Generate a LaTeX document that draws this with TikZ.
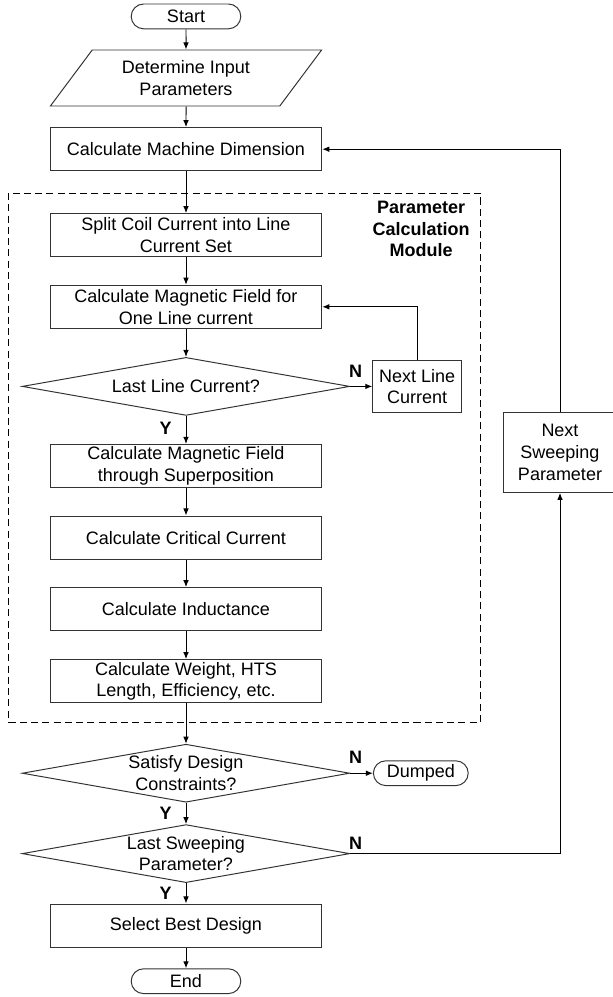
\documentclass[tikz,border=0pt]{standalone}
\usepackage{fontspec}
\setmainfont{Liberation Sans}
\usetikzlibrary{shapes.geometric,arrows.meta}

\begin{document}
\begin{tikzpicture}[
  line join=miter,
  every node/.style={font=\fontsize{12.8}{15.4}\selectfont},
  arr/.style={-{Latex[length=5pt,width=4pt]},line width=0.7pt},
  proc/.style={draw=black!80,line width=0.7pt,minimum width=6.79cm,minimum height=1.08cm,align=center,inner sep=1pt},
  term/.style={draw=black!80,line width=0.7pt,rectangle,rounded corners=0.31cm,minimum height=0.62cm,inner sep=0pt},
  decision/.style={draw=black!80,line width=0.7pt,diamond,minimum width=8.19cm,minimum height=1.45cm,inner sep=0pt},
  inputbox/.style={draw=black!80,line width=0.7pt,trapezium,trapezium left angle=50.7,trapezium right angle=129.3,trapezium stretches=true,minimum width=6.79cm,minimum height=1.40cm,align=center,inner sep=0pt},
  yn/.style={font=\fontsize{12.8}{15.4}\selectfont\bfseries}
]
\useasboundingbox (0,0) rectangle (15.325,-24.925);

% ------------------------------------------------------------------
% Main column
% ------------------------------------------------------------------
\node[term,minimum width=2.74cm] (start) at (4.65,-0.41) {Start};
\node[inputbox] (input) at (4.65,-1.95) {Determine Input\\Parameters};
\node[proc] (calc) at (4.65,-3.73) {Calculate Machine Dimension};

% ------------------------------------------------------------------
% Parameter calculation module
% ------------------------------------------------------------------
\draw[line width=0.7pt,dash pattern=on 5pt off 3pt] (0.22,-4.83) rectangle (12.02,-18.05);
\node[yn,align=center] (module) at (10.53,-5.73) {Parameter\\Calculation\\Module};

\node[proc] (split) at (4.65,-5.88) {Split Coil Current into Line\\Current Set};
\node[proc] (field) at (4.65,-7.67) {Calculate Magnetic Field for\\One Line current};
\node[decision] (lastline) at (4.65,-9.66) {};
\node[align=center] (lastlineT) at (lastline) {Last Line Current?};
\node[proc,minimum width=2.22cm,minimum height=1.30cm] (nextline) at (10.43,-9.66) {Next Line\\Current};
\node[proc] (superp) at (4.65,-11.65) {Calculate Magnetic Field\\through Superposition};
\node[proc] (crit) at (4.65,-13.44) {Calculate Critical Current};
\node[proc] (induct) at (4.65,-15.23) {Calculate Inductance};
\node[proc] (weight) at (4.65,-17.03) {Calculate Weight, HTS\\Length, Efficiency, etc.};

% ------------------------------------------------------------------
% Checks and end
% ------------------------------------------------------------------
\node[decision] (satisfy) at (4.65,-19.33) {};
\node[align=center] (satisfyT) at (satisfy) {Satisfy Design\\Constraints?};
\node[term,minimum width=2.37cm] (dumped) at (10.52,-19.33) {Dumped};
\node[decision] (lastsweep) at (4.65,-21.34) {};
\node[align=center] (lastsweepT) at (lastsweep) {Last Sweeping\\Parameter?};
\node[proc] (select) at (4.65,-23.14) {Select Best Design};
\node[term,minimum width=2.74cm] (end) at (4.65,-24.53) {End};
\node[proc,minimum width=2.85cm,minimum height=2.0cm] (nextsweep) at (14.0,-11.31) {Next\\Sweeping\\Parameter};

% connectors
\draw[arr] (start) -- (input);
\draw[arr] (input) -- (calc);
\draw[arr] (calc) -- (split);
\draw[arr] (split) -- (field);
\draw[arr] (field) -- (lastline);
\draw[arr] (lastline.east) -- (nextline.west);
\draw[arr] (nextline.north) |- (field.east);
\draw[arr] (lastline.south) -- (superp);
\draw[arr] (superp) -- (crit);
\draw[arr] (crit) -- (induct);
\draw[arr] (induct) -- (weight);
\draw[arr] (weight) -- (satisfy.north);
\draw[arr] (satisfy.east) -- (dumped.west);
\draw[arr] (satisfy.south) -- (lastsweep.north);
\draw[arr] (lastsweep.east) -| (nextsweep.south);
\draw[arr] (nextsweep.north) |- (calc.east);
\draw[arr] (lastsweep.south) -- (select);
\draw[arr] (select) -- (end);

\node[yn] (n1) at (8.89,-9.29) {N};
\node[yn] (y1) at (4.14,-10.71) {Y};
\node[yn] (n2) at (8.89,-18.92) {N};
\node[yn] (y2) at (4.14,-20.33) {Y};
\node[yn] (n3) at (8.89,-21.08) {N};
\node[yn] (y3) at (4.14,-22.33) {Y};

\end{tikzpicture}
\end{document}
